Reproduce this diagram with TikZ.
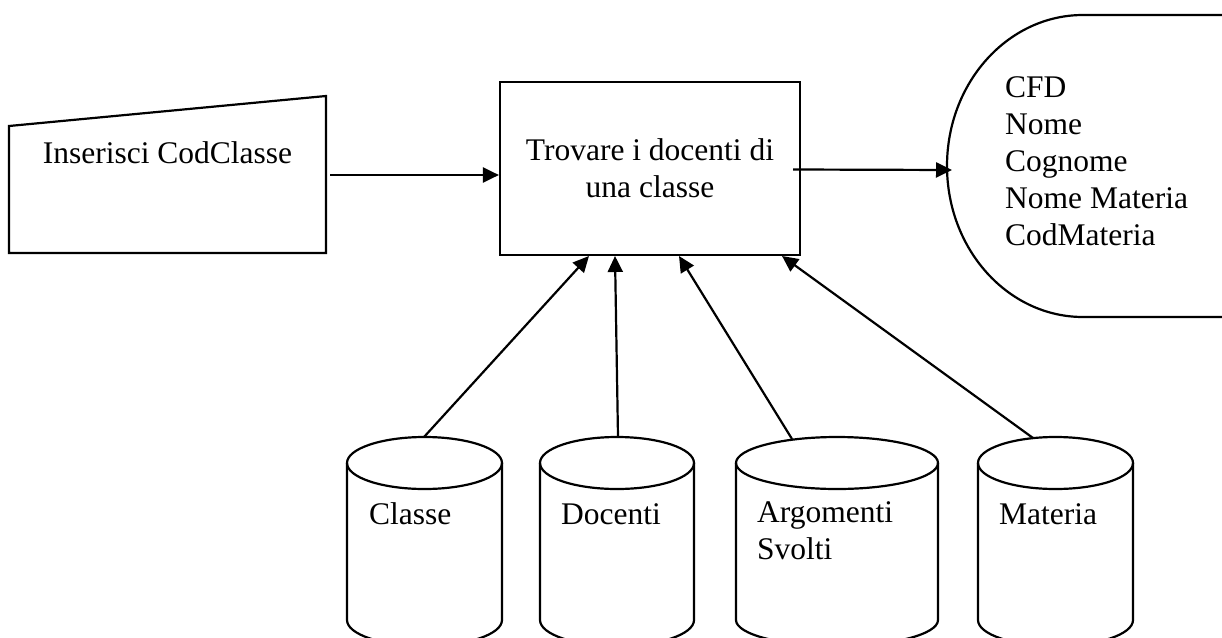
\documentclass[tikz,border=0pt]{standalone}
\usepackage{fontspec}
\setmainfont{Liberation Serif}
\usetikzlibrary{arrows.meta}
\tikzset{
  shp/.style={draw=black, line width=2.2pt, line join=miter},
  flow/.style={draw=black, line width=2.2pt, -{Triangle[length=16pt,width=15pt]}},
  txt/.style={inner sep=0pt, font=\fontsize{31.5}{37}\selectfont},
}
\newcommand\dbcyl[2]{%
  \draw[shp] (#1-#2,463) -- (#1-#2,620) arc[start angle=180,end angle=360,x radius=#2pt,y radius=26pt] -- (#1+#2,463);
  \draw[shp] (#1,463) ellipse[x radius=#2pt, y radius=26pt];
}
\begin{document}
\begin{tikzpicture}[x=1pt,y=-1pt]
\useasboundingbox (0,0) rectangle (1222,637);
\fill[white] (0,0) rectangle (1222,637);

% manual input (trapezoid)
\draw[shp] (9,126) -- (326,96) -- (326,253) -- (9,253) -- cycle;
\node[txt, anchor=base] (inp) at (167.5,163) {Inserisci CodClasse};
\coordinate (inOut) at (330,175);

% process
\node[shp, txt, minimum width=300pt, minimum height=173pt, align=center] (proc) at (650,168.5)
  {Trovare i docenti di\\una classe};

% display
\draw[shp] (1222,15) -- (1083,15) arc[start angle=90,end angle=270,x radius=136pt,y radius=151pt] -- (1222,317);
\node[txt, anchor=north west, align=left] (disp) at (1005,76)
  {CFD\\Nome\\Cognome\\Nome Materia\\CodMateria};
\coordinate (dispIn) at (952,170);

% data stores
\dbcyl{424.5}{77.5}
\dbcyl{617}{77}
\dbcyl{837}{101}
\dbcyl{1055.5}{77.5}
\node[txt, anchor=base west] (classe) at (369,524) {Classe};
\node[txt, anchor=base west] (docenti) at (561,524) {Docenti};
\node[txt, anchor=north west, align=left] (argom) at (757,501) {Argomenti\\Svolti};
\node[txt, anchor=base west] (materia) at (999,524) {Materia};

\coordinate (c1) at (424,437);
\coordinate (c2) at (618,437);
\coordinate (c3) at (792,439);
\coordinate (c4) at (1033,438);
\coordinate (p1) at (589,256);
\coordinate (p2) at (615,256);
\coordinate (p3) at (679,256);
\coordinate (p4) at (782,256);

% connectors
\draw[flow] (inOut) -- (proc.west |- inOut);
\draw[flow] ([xshift=-8pt,yshift=-1pt]proc.east) -- (dispIn);
\draw[flow] (c1) -- (p1);
\draw[flow] (c2) -- (p2);
\draw[flow] (c3) -- (p3);
\draw[flow] (c4) -- (p4);
\end{tikzpicture}
\end{document}
